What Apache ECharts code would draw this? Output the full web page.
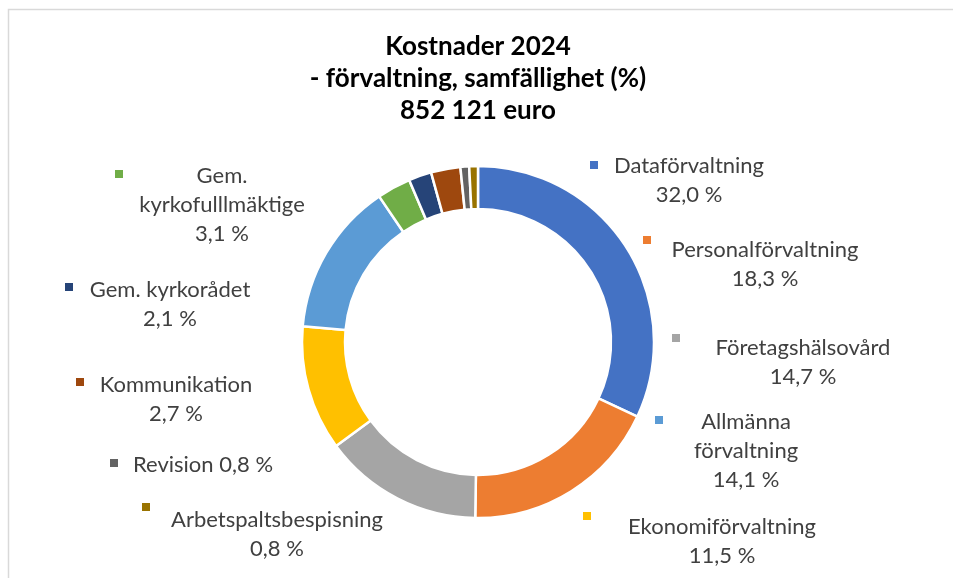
<!DOCTYPE html>
<html>
<head>
<meta charset="utf-8">
<script src="https://cdn.jsdelivr.net/npm/echarts@6/dist/echarts.min.js"></script>
<style>
  html, body { margin: 0; padding: 0; background: #fff; }
  #chart { width: 953px; height: 578px; }
</style>
</head>
<body>
<div id="chart"></div>
<script>
// data
var names = ['Dataförvaltning', 'Personalförvaltning', 'Företagshälsovård', 'Ekonomiförvaltning',
  'Allmänna förvaltning', 'Gem. kyrkofulllmäktige', 'Gem. kyrkorådet', 'Kommunikation',
  'Revision', 'Arbetspaltsbespisning'];
var values = [32.0, 18.3, 14.7, 11.5, 14.1, 3.1, 2.1, 2.7, 0.8, 0.8];
var labelNames = ['Dataförvaltning', 'Personalförvaltning', 'Företagshälsovård', 'Ekonomiförvaltning',
  'Allmänna\nförvaltning', 'Gem.\nkyrkofulllmäktige', 'Gem. kyrkorådet', 'Kommunikation',
  'Revision', 'Arbetspaltsbespisning'];
var colors = ['#4472C4', '#ED7D31', '#A5A5A5', '#FFC000', '#5B9BD5',
  '#70AD47', '#264478', '#9E480E', '#636363', '#997300'];

// where the labels were dragged to (label centre, marker centre)
var labelPos = [[689, 180], [765, 264], [803, 362], [722, 541], [746, 451],
  [222, 205], [170, 304], [176, 399], [203, 465], [277, 534]];
var markerPos = [[594, 165], [647, 240], [676, 338], [587, 516], [659, 420],
  [119, 174], [69, 287], [80, 382], [114, 463], [146, 507]];

var chart = echarts.init(document.getElementById('chart'));

function pct(v) {
  return v.toFixed(1).replace('.', ',') + ' %';
}

var pieData = names.map(function (n, i) {
  return { name: n, value: values[i] };
});

var markerRich = {};
colors.forEach(function (c, i) {
  markerRich['m' + i] = { width: 8, height: 8, backgroundColor: c };
});

var option = {
  color: colors,
  animation: false,
  title: {
    text: 'Kostnader 2024\n- förvaltning, samfällighet (%)\n852 121 euro',
    left: 478,
    textAlign: 'center',
    top: 31,
    padding: 0,
    textStyle: {
      fontFamily: 'Lato',
      fontSize: 26,
      fontWeight: 'bold',
      color: '#000',
      lineHeight: 32
    }
  },
  graphic: [{
    type: 'rect',
    shape: { x: 8.5, y: 9.5, width: 1200, height: 1200 },
    style: { fill: 'none', stroke: '#d9d9d9', lineWidth: 1.5 },
    silent: true
  }],
  series: [
    {
      type: 'pie',
      center: [478, 342],
      radius: [133, 176],
      startAngle: 90,
      clockwise: true,
      avoidLabelOverlap: false,
      itemStyle: { borderColor: '#fff', borderWidth: 2.5 },
      emphasis: { disabled: true },
      label: {
        position: 'outside',
        fontFamily: 'Lato',
        fontSize: 22,
        lineHeight: 29,
        color: '#404040',
        align: 'center',
        formatter: function (p) {
          var sep = p.dataIndex === 8 ? ' ' : '\n';
          return labelNames[p.dataIndex] + sep + pct(p.value);
        }
      },
      labelLine: { show: false },
      labelLayout: function (p) {
        var pos = labelPos[p.dataIndex];
        return { x: pos[0], y: pos[1], align: 'center', verticalAlign: 'middle' };
      },
      data: pieData
    },
    {
      // legend keys beside each label
      type: 'pie',
      center: [478, 342],
      radius: [133, 176],
      startAngle: 90,
      silent: true,
      avoidLabelOverlap: false,
      itemStyle: { color: 'rgba(0,0,0,0)', borderWidth: 0 },
      emphasis: { disabled: true },
      label: {
        position: 'outside',
        formatter: function (p) { return '{m' + p.dataIndex + '| }'; },
        rich: markerRich
      },
      labelLine: { show: false },
      labelLayout: function (p) {
        var pos = markerPos[p.dataIndex];
        return { x: pos[0], y: pos[1], align: 'center', verticalAlign: 'middle' };
      },
      data: pieData
    }
  ]
};

chart.setOption(option);
</script>
</body>
</html>
